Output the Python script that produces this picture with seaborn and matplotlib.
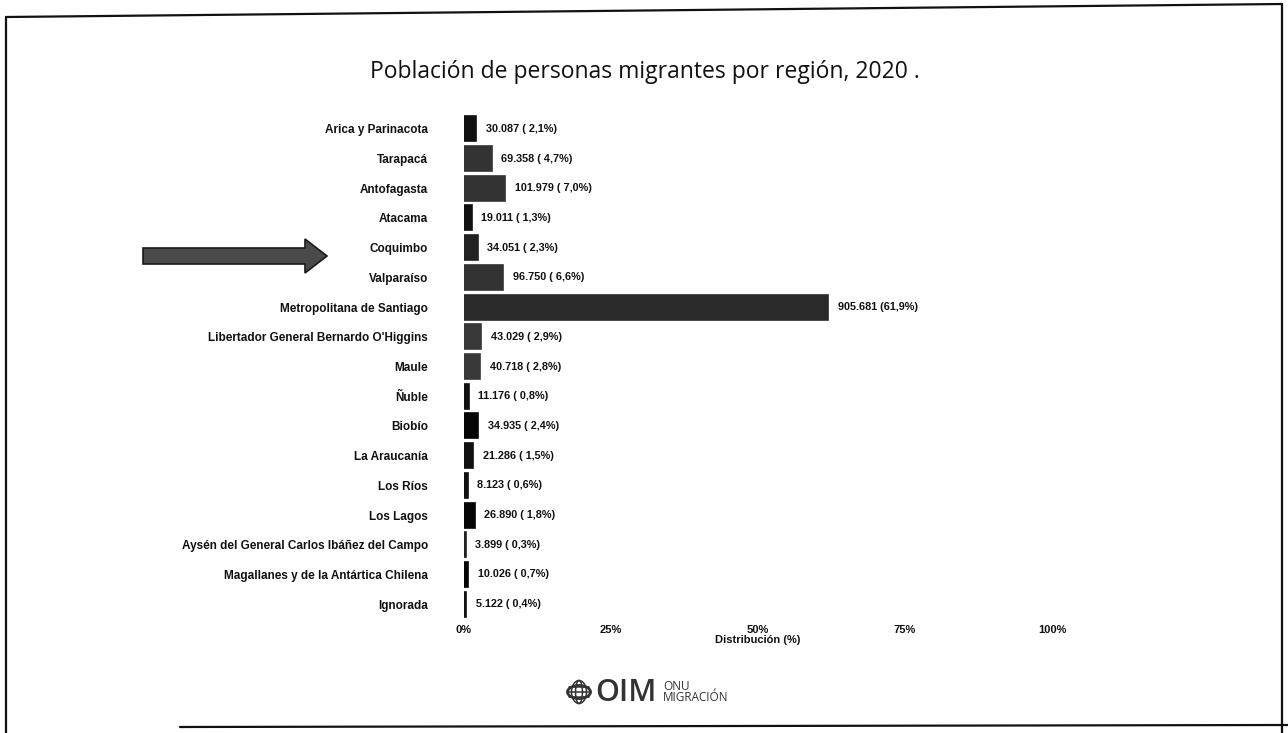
import seaborn as sns
import pandas as pd
import matplotlib.pyplot as plt
import matplotlib.patches as mpatches
from matplotlib.lines import Line2D

# Data
regions = ["Arica y Parinacota", "Tarapacá", "Antofagasta", "Atacama", "Coquimbo",
           "Valparaíso", "Metropolitana de Santiago",
           "Libertador General Bernardo O'Higgins", "Maule", "Ñuble", "Biobío",
           "La Araucanía", "Los Ríos", "Los Lagos",
           "Aysén del General Carlos Ibáñez del Campo",
           "Magallanes y de la Antártica Chilena", "Ignorada"]
persons = [30087, 69358, 101979, 19011, 34051, 96750, 905681, 43029, 40718,
           11176, 34935, 21286, 8123, 26890, 3899, 10026, 5122]
percent = [2.1, 4.7, 7.0, 1.3, 2.3, 6.6, 61.9, 2.9, 2.8, 0.8, 2.4, 1.5, 0.6,
           1.8, 0.3, 0.7, 0.4]
xticks = [0, 25, 50, 75, 100]
xtick_labels = ["0%", "25%", "50%", "75%", "100%"]

# scanned bars are not all the same shade
bar_colors = ["#111111", "#333333", "#333333", "#111111", "#222222", "#333333",
              "#2a2a2a", "#383838", "#383838", "#111111", "#050505", "#111111",
              "#111111", "#050505", "#222222", "#050505", "#111111"]

df = pd.DataFrame({"region": regions, "pct": percent, "n": persons})

def fmt_label(n, p):
    num = f"{n:,}".replace(",", ".")
    pc = f"{p:.1f}".replace(".", ",")
    if p >= 10:
        return f"{num} ({pc}%)"
    return f"{num} ( {pc}%)"

sns.set_style("white")
plt.rcParams['font.family'] = ['Liberation Sans', 'DejaVu Sans']

W, H = 1288, 733
fig = plt.figure(figsize=(W / 100, H / 100), dpi=100)
ax = fig.add_axes([464 / W, 1 - 619 / H, 588 / W, 505 / H])

sns.barplot(data=df, x="pct", y="region", hue="region", palette=bar_colors,
            legend=False, orient="h", width=0.84, ax=ax, saturation=1)
for cont, col in zip(ax.containers, bar_colors):
    for bar in cont:
        bar.set_edgecolor(col)
        bar.set_linewidth(1.2)

labels = [fmt_label(n, p) for n, p in zip(persons, percent)]
for cont, lab in zip(ax.containers, labels):
    ax.bar_label(cont, labels=[lab], padding=7, fontsize=7.8, fontweight="bold",
                 color="#111111")

ax.set_xlim(0, 100)
ax.set_xticks(xticks)
ax.set_xticklabels(xtick_labels)
ax.tick_params(axis="x", length=0, pad=4, labelsize=8)
ax.tick_params(axis="y", length=0, pad=26, labelsize=8.5)
for t in ax.get_xticklabels() + ax.get_yticklabels():
    t.set_fontweight("bold")
    t.set_color("#111111")
ax.set_ylabel("")
ax.set_xlabel("Distribución (%)", fontsize=8, fontweight="bold",
              color="#111111", labelpad=0)
sns.despine(ax=ax, left=True, bottom=True)

fig.text(645 / W, 1 - 72 / H, "Población de personas migrantes por región, 2020 .",
         ha="center", va="center", fontsize=16.5, family="Open Sans",
         color="#111111")

# the arrow pointing at Coquimbo
arrow = mpatches.FancyArrow(143 / W, 1 - 256 / H, 184 / W, 0,
                            width=16 / H, head_width=34 / H, head_length=22 / W,
                            length_includes_head=True, transform=fig.transFigure,
                            facecolor="#4a4a4a", edgecolor="#1a1a1a", lw=1.2)
fig.add_artist(arrow)

# page frame of the scan
frame = [((6, 17), (1282, 4)), ((6, 17), (6, 733)), ((1282, 4), (1282, 733)),
         ((180, 727), (1288, 725))]
for (x0, y0), (x1, y1) in frame:
    fig.add_artist(Line2D([x0 / W, x1 / W], [1 - y0 / H, 1 - y1 / H],
                          transform=fig.transFigure, color="#111111", lw=1.6))

# OIM logo
cx, cy, r = 579, 692, 11.5
globe = mpatches.Circle((cx / W, 1 - cy / H), r / W, transform=fig.transFigure,
                        fill=False, edgecolor="#333333", lw=2)
fig.add_artist(globe)
for ew in [0.6, 1.3]:
    fig.add_artist(mpatches.Ellipse((cx / W, 1 - cy / H), ew * r / W, 2 * r / H,
                                    transform=fig.transFigure, fill=False,
                                    edgecolor="#333333", lw=1.1))
for dy in [-5, 0, 5]:
    half = (r * r - dy * dy) ** 0.5
    fig.add_artist(Line2D([(cx - half) / W, (cx + half) / W],
                          [1 - (cy + dy) / H, 1 - (cy + dy) / H],
                          transform=fig.transFigure, color="#333333", lw=1.1))
fig.text(595 / W, 1 - 693 / H, "OIM", ha="left", va="center", fontsize=22,
         family="Open Sans", fontweight="semibold", color="#333333")
fig.text(663 / W, 1 - 686 / H, "ONU", ha="left", va="center", fontsize=8.5,
         family="Open Sans", color="#333333")
fig.text(663 / W, 1 - 697.5 / H, "MIGRACIÓN", ha="left", va="center", fontsize=8.5,
         family="Open Sans", color="#333333")

fig.savefig("out.png", dpi=100, facecolor="white")
